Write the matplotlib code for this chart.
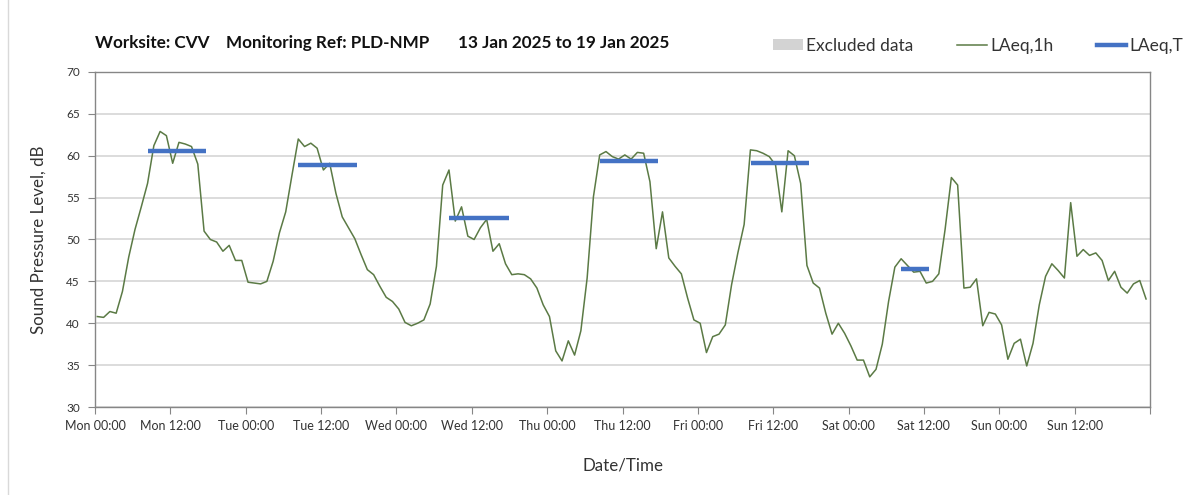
import numpy as np
import matplotlib
matplotlib.use("Agg")
import matplotlib.pyplot as plt
from matplotlib.patches import Rectangle, Patch
from matplotlib.lines import Line2D

# hourly LAeq,1h readings, Mon 00:00 .. Sun 23:00
laeq_1h = [
    40.8, 40.7, 41.4, 41.2, 43.8, 47.9, 51.2, 53.9, 56.7, 61.2, 62.9, 62.4,
    59.1, 61.6, 61.4, 61.1, 59.0, 51.0, 50.0, 49.7, 48.6, 49.3, 47.5, 47.5,
    44.9, 44.8, 44.7, 45.0, 47.4, 50.8, 53.3, 57.7, 62.0, 61.1, 61.5, 60.9,
    58.3, 59.1, 55.5, 52.7, 51.4, 50.1, 48.2, 46.4, 45.8, 44.4, 43.1, 42.6,
    41.7, 40.1, 39.7, 40.0, 40.4, 42.3, 46.8, 56.5, 58.3, 52.2, 53.9, 50.4,
    50.0, 51.4, 52.4, 48.6, 49.5, 47.1, 45.8, 45.9, 45.8, 45.3, 44.2, 42.2,
    40.8, 36.7, 35.5, 37.9, 36.2, 39.1, 45.4, 55.1, 60.1, 60.5, 59.9, 59.6,
    60.1, 59.6, 60.4, 60.3, 56.9, 48.9, 53.3, 47.8, 46.8, 45.9, 43.0, 40.4,
    40.0, 36.5, 38.4, 38.7, 39.8, 44.6, 48.4, 51.8, 60.7, 60.6, 60.3, 59.9,
    58.9, 53.3, 60.6, 60.0, 56.7, 46.9, 44.8, 44.2, 41.2, 38.7, 40.0, 38.8,
    37.3, 35.6, 35.6, 33.6, 34.5, 37.5, 42.6, 46.7, 47.7, 46.9, 46.1, 46.2,
    44.8, 45.0, 45.9, 51.2, 57.4, 56.5, 44.2, 44.3, 45.3, 39.7, 41.3, 41.1,
    39.8, 35.7, 37.6, 38.1, 34.9, 37.6, 42.2, 45.6, 47.1, 46.3, 45.4, 54.4,
    48.0, 48.8, 48.1, 48.4, 47.5, 45.1, 46.2, 44.3, 43.6, 44.7, 45.1, 42.9,
]

# LAeq,T per day: start hour, end hour (from Mon 00:00), level
laeq_t_start = [8.4, 32.4, 56.4, 80.4, 104.4, 128.4]
laeq_t_end = [17.7, 41.7, 65.9, 89.7, 113.7, 132.8]
laeq_t_level = [60.6, 58.9, 52.6, 59.4, 59.1, 46.45]

days = ["Mon", "Tue", "Wed", "Thu", "Fri", "Sat", "Sun"]
tick_labels = [f"{d} {t}" for d in days for t in ("00:00", "12:00")] + [""]

plt.rcParams["font.family"] = ["Lato", "DejaVu Sans"]

fig = plt.figure(figsize=(12.03, 4.95), dpi=100)
ax = fig.add_axes([95 / 1203, 1 - 407 / 495, (1150 - 95) / 1203, (407 - 72) / 495])

# chart frame
fig.patches.append(Rectangle((8 / 1203, -0.1), 1.2, 1.2, transform=fig.transFigure,
                             fill=False, edgecolor="#d9d9d9", linewidth=1))

hours = np.arange(len(laeq_1h)) + 0.37
ax.plot(hours, laeq_1h, color="#5b7a45", linewidth=1.1, zorder=3)
for s, e, lv in zip(laeq_t_start, laeq_t_end, laeq_t_level):
    ax.plot([s, e], [lv, lv], color="#4472c4", linewidth=3.2,
            solid_capstyle="butt", zorder=4)

ax.set_xlim(0, 168)
ax.set_ylim(30, 70)
ax.set_yticks(np.arange(30, 71, 5))
ax.set_xticks(np.arange(0, 169, 12))
ax.set_xticklabels(tick_labels)
ax.set_xticks(np.arange(24, 168, 24), minor=True)
ax.tick_params(axis="x", which="major", length=5, color="#868686",
               labelsize=9, labelcolor="#333333", pad=4)
ax.tick_params(axis="x", which="minor", length=0)
ax.tick_params(axis="y", length=5, color="#868686", labelsize=8.5,
               labelcolor="#333333", pad=6)

ax.grid(axis="y", color="#d9d9d9", linewidth=1.3, zorder=0)
ax.grid(axis="x", which="minor", color="#d9d9d9", linewidth=1.0, zorder=0)
for side in ["left", "bottom", "top", "right"]:
    ax.spines[side].set_color("#868686")
    ax.spines[side].set_linewidth(1.0)

ax.set_ylabel("Sound Pressure Level, dB", fontsize=12.2, color="#333333", labelpad=14)
ax.set_xlabel("Date/Time", fontsize=12.2, color="#333333", labelpad=19)

# title pieces
title_kw = dict(fontsize=12.3, fontweight="bold", color="#111111", va="center")
fig.text(95 / 1203, 1 - 43 / 495, "Worksite: CVV", **title_kw)
fig.text(226 / 1203, 1 - 43 / 495, "Monitoring Ref: PLD-NMP", **title_kw)
fig.text(458 / 1203, 1 - 43 / 495, "13 Jan 2025 to 19 Jan 2025", **title_kw)

handles = [Patch(facecolor="#d3d3d3", edgecolor="none"),
           Line2D([], [], color="#5b7a45", linewidth=1.1),
           Line2D([], [], color="#4472c4", linewidth=3.2)]
fig.legend(handles, ["Excluded data", "LAeq,1h", "LAeq,T"], ncol=3,
           loc="center right", bbox_to_anchor=(1199 / 1203, 1 - 46 / 495),
           frameon=False, fontsize=12.5, handlelength=1.7, handleheight=0.6,
           handletextpad=0.2, columnspacing=2.5, labelcolor="#333333")

fig.savefig("out.png", dpi=100)
